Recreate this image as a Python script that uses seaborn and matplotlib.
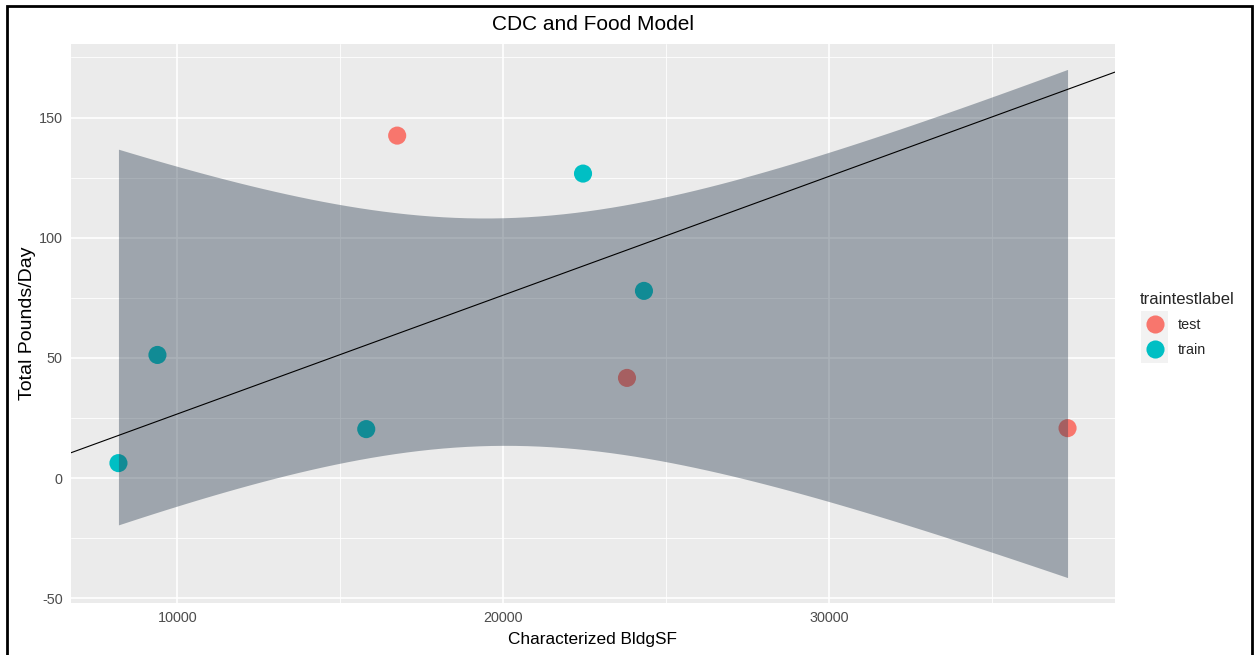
import numpy as np
import pandas as pd
import matplotlib
matplotlib.use("Agg")
import matplotlib.pyplot as plt
from matplotlib.patches import Rectangle
import seaborn as sns

# ---- data ----
bldg_sf = [16748, 22454, 24325, 9387, 23804, 15798, 37331, 8190]
pounds_day = [142.5, 126.7, 77.9, 51.25, 41.7, 20.4, 20.8, 6.25]
labels = ["test", "train", "train", "train", "test", "train", "test", "train"]
hue_order = ["test", "train"]
palette = {"test": "#F8766D", "train": "#00BFC4"}
x_ticks = [10000, 20000, 30000]
y_ticks = [-50, 0, 50, 100, 150]
T_975_DF6 = 2.446912  # t quantile for 95% CI, n-2 = 6 df

df = pd.DataFrame({"Characterized BldgSF": bldg_sf,
                   "Total Pounds/Day": pounds_day,
                   "traintestlabel": labels})

W, H = 1257, 655
sns.set_style("darkgrid", {"axes.facecolor": "#EBEBEB", "grid.color": "white"})
plt.rcParams["font.family"] = ["Liberation Sans", "DejaVu Sans"]

fig = plt.figure(figsize=(W / 100, H / 100), dpi=100)
ax = fig.add_axes([71 / W, 1 - 603 / H, (1115 - 71) / W, (603 - 44) / H])

# points (drawn below the band, as in the reference)
sns.scatterplot(data=df, x="Characterized BldgSF", y="Total Pounds/Day",
                hue="traintestlabel", hue_order=hue_order, palette=palette,
                s=170, linewidth=0, alpha=1, ax=ax, zorder=2, legend=True)

# lm confidence band over all points
x = np.asarray(bldg_sf, float)
y = np.asarray(pounds_day, float)
n = len(x)
b1, b0 = np.polyfit(x, y, 1)
resid = y - (b0 + b1 * x)
s = np.sqrt(np.sum(resid ** 2) / (n - 2))
sxx = np.sum((x - x.mean()) ** 2)
xg = np.linspace(x.min(), x.max(), 80)
fit = b0 + b1 * xg
hw = T_975_DF6 * s * np.sqrt(1 / n + (xg - x.mean()) ** 2 / sxx)
lo, hi = fit - hw, fit + hw
ax.fill_between(xg, lo, hi, color="#2C3E50", alpha=0.4, linewidth=0, zorder=3)

# model line fitted on the train points, extended across the panel
mask = np.array([l == "train" for l in labels])
m1, m0 = np.polyfit(x[mask], y[mask], 1)
ax.axline((0, m0), slope=m1, color="black", linewidth=0.8, zorder=4)

# limits with ggplot-style 5% expansion
xr = x.max() - x.min()
ax.set_xlim(x.min() - 0.05 * xr, x.max() + 0.05 * xr)
ymin, ymax = min(lo.min(), y.min()), max(hi.max(), y.max())
yr = ymax - ymin
ax.set_ylim(ymin - 0.05 * yr, ymax + 0.05 * yr)

ax.set_xticks(x_ticks)
ax.set_yticks(y_ticks)
ax.set_xticklabels([str(v) for v in x_ticks])
ax.set_yticklabels([str(v) for v in y_ticks])
ax.set_xticks([15000, 25000, 35000], minor=True)
ax.set_yticks([-25, 25, 75, 125, 175], minor=True)
ax.grid(which="major", color="white", linewidth=1.2)
ax.grid(which="minor", color="white", linewidth=0.6)
ax.set_axisbelow(True)
ax.tick_params(which="major", length=3.5, width=0.8, color="#333333",
               labelsize=10.4, labelcolor="#4D4D4D", pad=2.5)
ax.tick_params(which="minor", length=0)
for sp in ax.spines.values():
    sp.set_visible(False)

ax.set_xlabel("Characterized BldgSF", fontsize=12.4, color="black", labelpad=4.5)
ax.set_ylabel("Total Pounds/Day", fontsize=14, color="black", labelpad=2)
ax.set_title("CDC and Food Model", fontsize=15, color="black", pad=10)

# legend
handles, lbls = ax.get_legend_handles_labels()
ax.legend(handles, lbls, title="traintestlabel", loc="upper left",
          bbox_to_anchor=(1130 / W, 1 - 282 / H), bbox_transform=fig.transFigure,
          frameon=False, fontsize=10.4, title_fontsize=12, alignment="left",
          labelspacing=0.75, handletextpad=0.6, borderpad=0.2, markerscale=1.0)
fig.add_artist(Rectangle((1141 / W, 1 - 363 / H), 27 / W, 52 / H,
                         transform=fig.transFigure, facecolor="#F2F2F2",
                         edgecolor="none", zorder=-1))

# outer black frame
fig.add_artist(Rectangle((7 / W, -0.02), (1252 - 7) / W, 1.02 - 6 / H,
                         transform=fig.transFigure, facecolor="none",
                         edgecolor="black", linewidth=2))

fig.savefig("out.png", dpi=100)
